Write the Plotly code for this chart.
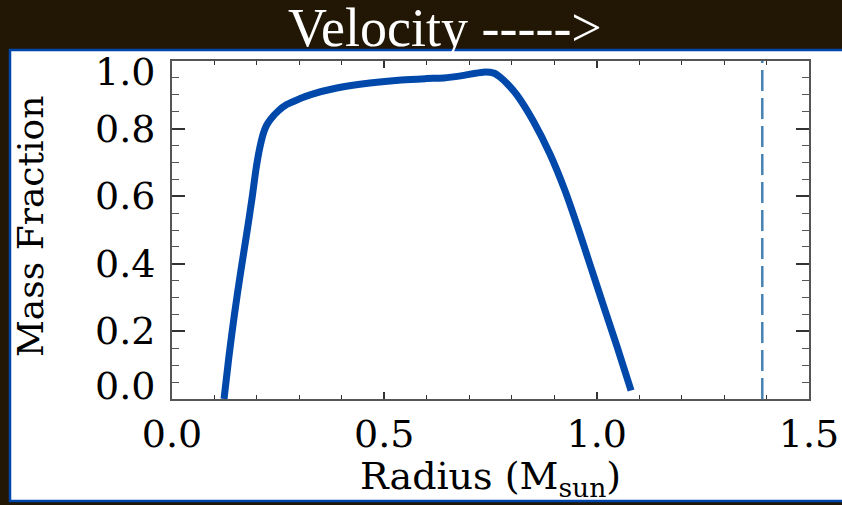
import plotly.graph_objects as go

# Data
radius = [0.1225, 0.134, 0.147, 0.161, 0.176, 0.188, 0.199, 0.207, 0.215, 0.222,
          0.231, 0.250, 0.270, 0.300, 0.325, 0.388, 0.466, 0.540, 0.600, 0.640,
          0.680, 0.733, 0.758, 0.773, 0.790, 0.812, 0.851, 0.890, 0.925, 0.955,
          0.985, 1.015, 1.048, 1.081]
mass_fraction = [0.00, 0.125, 0.25, 0.37, 0.49, 0.59, 0.69, 0.745, 0.785, 0.808,
                 0.826, 0.852, 0.871, 0.888, 0.900, 0.920, 0.935, 0.944, 0.948, 0.950,
                 0.956, 0.967, 0.964, 0.952, 0.932, 0.900, 0.822, 0.725, 0.618, 0.510,
                 0.395, 0.280, 0.155, 0.025]
chandra_x = [1.39, 1.39]
chandra_y = [0.0, 1.0]

x_ticks = [0.0, 0.5, 1.0, 1.5]
x_ticklabels = ["0.0", "0.5", "1.0", "1.5"]
y_ticks = [0.0, 0.2, 0.4, 0.6, 0.8, 1.0]
y_ticklabels = ["0.0", "0.2", "0.4", "0.6", "0.8", "1.0"]

title_text = "Velocity ----->"
x_title = "Radius (M<sub>sun</sub>)"
y_title = "Mass Fraction"

W, H = 842, 505
L, R, T, B = 172, 33, 61, 106
pw, ph = W - L - R, H - T - B


def px_x(p):
    return (p - L) / pw


def px_y(p):
    return (H - B - p) / ph


SERIF = "DejaVu Serif"
fig = go.Figure()

fig.add_trace(go.Scatter(x=radius, y=mass_fraction, mode="lines",
                         line=dict(color="#0048AA", width=7, shape="spline", smoothing=0.8),
                         showlegend=False, cliponaxis=False))
fig.add_trace(go.Scatter(x=chandra_x, y=chandra_y, mode="lines",
                         line=dict(color="#4682B4", width=2.5, dash="21px,7px"),
                         showlegend=False))

axis_common = dict(showgrid=False, zeroline=False, showline=True, linecolor="#555555",
                   linewidth=2, mirror="allticks", ticks="inside", tickcolor="#333333",
                   automargin=False)

fig.update_xaxes(range=[0, 1.5], tickvals=x_ticks, ticktext=x_ticklabels,
                 ticklen=7, tickwidth=1.5,
                 minor=dict(dtick=0.1, ticklen=4, ticks="inside", tickcolor="#333333", tickwidth=1),
                 tickfont=dict(family=SERIF, size=38, color="black"),
                 ticklabelstandoff=0, **axis_common)
fig.update_yaxes(range=[0, 1], tickvals=y_ticks, showticklabels=False,
                 ticklen=13, tickwidth=1.5,
                 minor=dict(dtick=0.05, ticklen=7, ticks="inside", tickcolor="#555555", tickwidth=1),
                 **axis_common)

annotations = []
for v, lab in zip(y_ticks, y_ticklabels):
    shift = -11 if v == 1.0 else (13 if v == 0.0 else 0)
    annotations.append(dict(x=px_x(157), y=v, xref="paper", yref="y", text=lab,
                            showarrow=False, xanchor="right", yanchor="middle",
                            yshift=shift, font=dict(family=SERIF, size=38, color="black")))
annotations.append(dict(x=px_x(445), y=px_y(28), xref="paper", yref="paper", text=title_text,
                        showarrow=False, xanchor="center", yanchor="middle",
                        font=dict(family="Liberation Serif", size=54, color="white")))
annotations.append(dict(x=px_x(490), y=px_y(478), xref="paper", yref="paper", text=x_title,
                        showarrow=False, xanchor="center", yanchor="middle",
                        font=dict(family=SERIF, size=38, color="black")))
annotations.append(dict(x=px_x(31), y=px_y(227), xref="paper", yref="paper", text=y_title,
                        showarrow=False, xanchor="center", yanchor="middle", textangle=-90,
                        font=dict(family=SERIF, size=36, color="black")))

shapes = [dict(type="rect", xref="paper", yref="paper", layer="below",
               x0=px_x(10), x1=px_x(845), y0=px_y(501), y1=px_y(50),
               fillcolor="white", line=dict(color="#0046AA", width=2.5))]

fig.update_layout(width=W, height=H, margin=dict(l=L, r=R, t=T, b=B, pad=0),
                  paper_bgcolor="#211704", plot_bgcolor="white",
                  annotations=annotations, shapes=shapes, showlegend=False)

fig.write_html("out.html")
